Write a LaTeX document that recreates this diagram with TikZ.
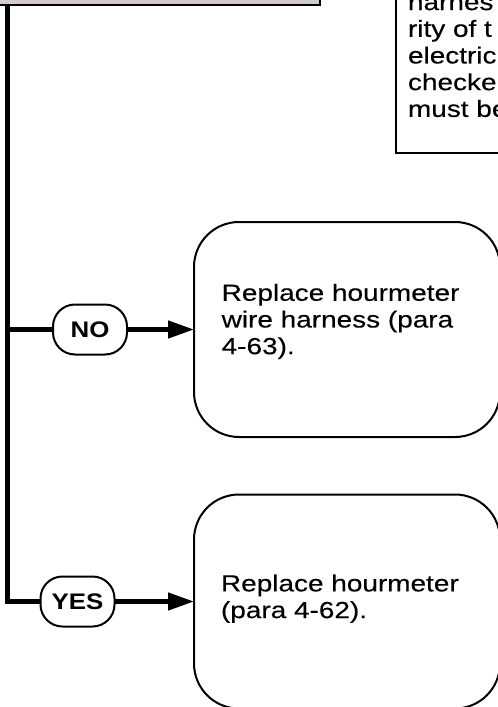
\documentclass[tikz,border=0pt]{standalone}
\usepackage{fontspec}
\setmainfont{Liberation Sans}
\newfontfamily\widefont[FakeStretch=1.2,FakeBold=0.3]{Liberation Sans}
\newfontfamily\labelfont[FakeStretch=1.15]{Liberation Sans}
\usetikzlibrary{arrows.meta}
\definecolor{boxgray}{RGB}{211,203,201}
\begin{document}
\begin{tikzpicture}[x=1pt,y=-1pt,
  every node/.style={inner sep=0pt, outer sep=0pt},
  frame/.style={draw=black, line width=2pt},
  bigbox/.style={frame, rounded corners=45pt, minimum width=306pt},
  oval/.style={frame, rounded corners=22pt, minimum width=74pt, minimum height=50pt, font=\labelfont\fontsize{22.5}{26}\selectfont\bfseries},
  boxtext/.style={anchor=north west, align=left, font=\widefont\fontsize{23.3}{26.7}\selectfont},
  flow/.style={line width=4.5pt},
  arrowflow/.style={flow, -{Triangle[length=26pt,width=17pt]}}
]
\useasboundingbox (0,0) rectangle (498,707);
% partial boxes at the top
\node[frame, fill=boxgray, minimum width=340pt, minimum height=35pt] (top) at (150,-12.5) {};
\node[frame, minimum width=134pt, minimum height=183pt] (note) at (463,61.5) {};
\node[boxtext] (notetext) at (408,-6.8) {harnes\\rity of t\\electric\\checke\\must be};
% result boxes
\node[bigbox, minimum height=215pt] (nobox) at (347,329.5) {};
\node[boxtext] (notext) at (221.7,283.9) {Replace hourmeter\\wire harness (para\\4-63).};
\node[bigbox, minimum height=214pt] (yesbox) at (347,601.5) {};
\node[boxtext] (yestext) at (221,574.5) {Replace hourmeter\\(para 4-62).};
% decision labels
\node[oval] (no) at (90,329.5) {NO};
\node[oval] (yes) at (77.5,601.5) {YES};
% connectors
\coordinate (trunk) at (7.5,5);
\draw[flow] (trunk) |- (yes.west);
\draw[flow] (trunk |- no.west) -- (no.west);
\draw[arrowflow] (no.east) -- (nobox.west);
\draw[arrowflow] (yes.east) -- (yesbox.west);
\end{tikzpicture}
\end{document}
